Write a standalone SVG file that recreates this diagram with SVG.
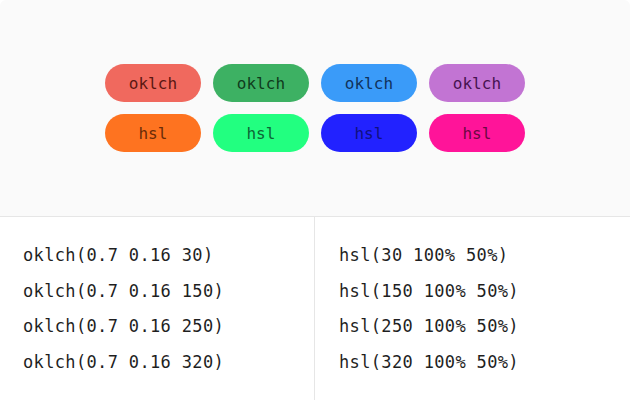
<svg xmlns="http://www.w3.org/2000/svg" width="630" height="400" viewBox="0 0 630 400">
  <style>
    .pill-text { font-family: "DejaVu Sans Mono", "Liberation Mono", monospace; font-size: 16px; letter-spacing: 0.1px; text-anchor: middle; }
    .code { font-family: "DejaVu Sans Mono", "Liberation Mono", monospace; font-size: 17px; letter-spacing: 0.35px; fill: #1f1f1f; }
    .rule { stroke: #e6e6e6; stroke-width: 1; }
  </style>
  <defs>
    <clipPath id="frame"><rect x="0" y="0" width="630" height="400" rx="6"/></clipPath>
  </defs>
  <rect x="0" y="0" width="630" height="400" fill="#ffffff"/>
  <g clip-path="url(#frame)">
    <rect x="0" y="0" width="630" height="216" fill="#fafafa"/>
    <rect x="0" y="216" width="630" height="184" fill="#ffffff"/>
    <line class="rule" x1="0" y1="216.5" x2="630" y2="216.5"/>
    <line class="rule" x1="314.5" y1="217" x2="314.5" y2="400"/>
  </g>

  <g id="swatch-oklch-30"><rect x="105" y="64" width="96" height="38" rx="19" fill="#f0695e"/><text class="pill-text" x="153" y="88.5" fill="#5a1712">oklch</text></g>
  <g id="swatch-oklch-150"><rect x="213" y="64" width="96" height="38" rx="19" fill="#3db163"/><text class="pill-text" x="261" y="88.5" fill="#0f3b1c">oklch</text></g>
  <g id="swatch-oklch-250"><rect x="321" y="64" width="96" height="38" rx="19" fill="#3a9bf9"/><text class="pill-text" x="369" y="88.5" fill="#10325c">oklch</text></g>
  <g id="swatch-oklch-320"><rect x="429" y="64" width="96" height="38" rx="19" fill="#c274d3"/><text class="pill-text" x="477" y="88.5" fill="#461250">oklch</text></g>

  <g id="swatch-hsl-30"><rect x="105" y="114" width="96" height="38" rx="19" fill="#fe7320"/><text class="pill-text" x="153" y="138.5" fill="#6b2c08">hsl</text></g>
  <g id="swatch-hsl-150"><rect x="213" y="114" width="96" height="38" rx="19" fill="#22ff80"/><text class="pill-text" x="261" y="138.5" fill="#0d6635">hsl</text></g>
  <g id="swatch-hsl-250"><rect x="321" y="114" width="96" height="38" rx="19" fill="#2222ff"/><text class="pill-text" x="369" y="138.5" fill="#101080">hsl</text></g>
  <g id="swatch-hsl-320"><rect x="429" y="114" width="96" height="38" rx="19" fill="#ff1499"/><text class="pill-text" x="477" y="138.5" fill="#6b0842">hsl</text></g>

  <g id="oklch-values">
    <text class="code" x="23" y="261">oklch(0.7 0.16 30)</text>
    <text class="code" x="23" y="296.5">oklch(0.7 0.16 150)</text>
    <text class="code" x="23" y="332">oklch(0.7 0.16 250)</text>
    <text class="code" x="23" y="367.5">oklch(0.7 0.16 320)</text>
  </g>
  <g id="hsl-values">
    <text class="code" x="339" y="261">hsl(30 100% 50%)</text>
    <text class="code" x="339" y="296.5">hsl(150 100% 50%)</text>
    <text class="code" x="339" y="332">hsl(250 100% 50%)</text>
    <text class="code" x="339" y="367.5">hsl(320 100% 50%)</text>
  </g>
</svg>
